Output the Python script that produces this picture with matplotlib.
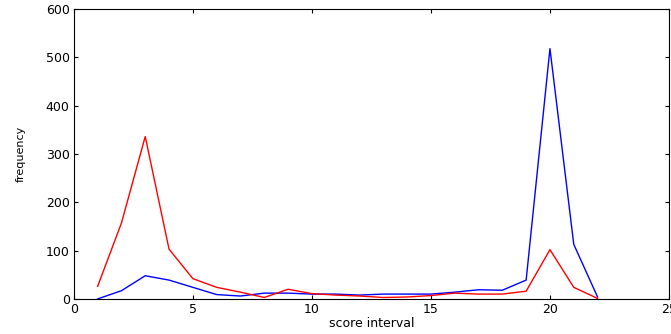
import matplotlib
matplotlib.use("Agg")
import matplotlib.pyplot as plt

# score interval index
x = list(range(1, 23))

# red series
red = [26, 157, 336, 103, 42, 24, 14, 3, 20, 11, 8, 6,
       3, 4, 7, 12, 10, 10, 16, 102, 24, 1]
# blue series
blue = [0, 17, 48, 39, 24, 9, 6, 12, 12, 10, 10, 8,
        10, 10, 10, 14, 19, 18, 39, 518, 113, 4]

fig = plt.figure(figsize=(6.71, 3.34), dpi=100)
ax = fig.add_axes([0.110, 0.105, 0.887, 0.868])

ax.plot(x, blue, color="blue", linewidth=1.0)
ax.plot(x, red, color="red", linewidth=1.0)

ax.set_xlim(0, 25)
ax.set_ylim(0, 600)
ax.set_xticks([0, 5, 10, 15, 20, 25])
ax.set_yticks([0, 100, 200, 300, 400, 500, 600])

ax.tick_params(direction="in", top=True, right=True, labelsize=9,
               length=3, width=0.8, colors="black", pad=3)
for s in ax.spines.values():
    s.set_linewidth(0.8)

ax.set_xlabel("score interval", fontsize=9, labelpad=1)
ax.set_ylabel("frequency", fontsize=8, labelpad=14)

plt.savefig("out.png", dpi=100)
